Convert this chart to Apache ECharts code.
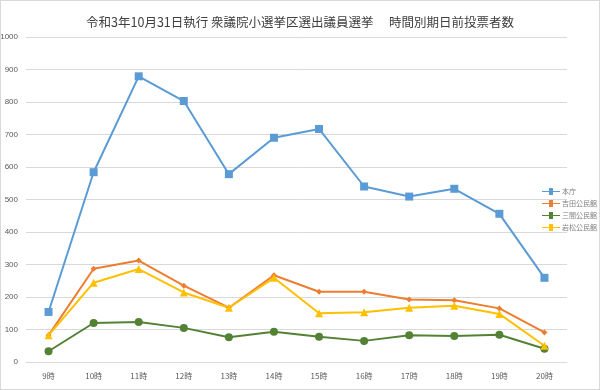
<!DOCTYPE html>
<html><head><meta charset="utf-8">
<script src="https://cdn.jsdelivr.net/npm/echarts@6/dist/echarts.min.js"></script>
<style>html,body{margin:0;padding:0;background:#fff}#c{width:598px;height:388px;border:1px solid #d9d9d9}</style>
</head><body><div id="c"></div>
<script>
const title = '令和3年10月31日執行 衆議院小選挙区選出議員選挙　 時間別期日前投票者数';
const categories = ['9時','10時','11時','12時','13時','14時','15時','16時','17時','18時','19時','20時'];
const seriesNames = ['本庁','吉田公民館','三間公民館','岩松公民館'];
const honcho = [154,584,879,803,578,690,717,540,509,533,456,259];
const yoshida = [82,287,312,235,167,267,216,216,192,190,165,91];
const mima = [33,120,123,105,76,93,78,65,82,80,84,41];
const iwamatsu = [82,244,286,214,167,259,150,153,167,173,148,50];
const yTicks = {min:0, max:1000, interval:100};

const colors = ['#5b9bd5','#ed7d31','#548235','#ffc000'];
const symbols = ['rect','diamond','circle','triangle'];
const sizes = [8,6,8,8];
const datas = [honcho, yoshida, mima, iwamatsu];

const chart = echarts.init(document.getElementById('c'));
chart.setOption({
  animation:false,
  title:{text:title,left:'center',top:10,textStyle:{fontSize:12.5,fontWeight:'normal',color:'#404040',fontFamily:'"Noto Sans CJK JP"'}},
  legend:{orient:'vertical',left:536,top:182,itemGap:5,itemWidth:18,itemHeight:8,
    textStyle:{fontSize:7,color:'#7f7f7f',fontFamily:'"Noto Sans CJK JP"',padding:[0,0,0,-3]},
    data:seriesNames.map((n,i)=>({name:n,icon:'path://M0,4L7,4L7,1L11,1L11,4L18,4L18,5L11,5L11,8L7,8L7,5L0,5Z'}))},
  grid:{left:25,right:32,top:36,bottom:27,containLabel:false,outerBoundsMode:'none'},
  xAxis:{type:'category',data:categories,boundaryGap:true,
    axisLine:{lineStyle:{color:'#d9d9d9'}},axisTick:{show:false},
    axisLabel:{fontSize:8,color:'#595959',margin:10,fontFamily:'"Noto Sans CJK JP"'}},
  yAxis:{type:'value',min:yTicks.min,max:yTicks.max,interval:yTicks.interval,
    axisLine:{show:false},axisTick:{show:false},
    splitLine:{lineStyle:{color:'#d9d9d9'}},
    axisLabel:{fontSize:8,color:'#595959',margin:8,formatter:v=>String(v)}},
  series:datas.map((d,i)=>({name:seriesNames[i],type:'line',data:d,
    symbol:symbols[i],symbolSize:sizes[i],showSymbol:true,
    lineStyle:{width:2,color:colors[i]},itemStyle:{color:colors[i]}}))
});
</script></body></html>
